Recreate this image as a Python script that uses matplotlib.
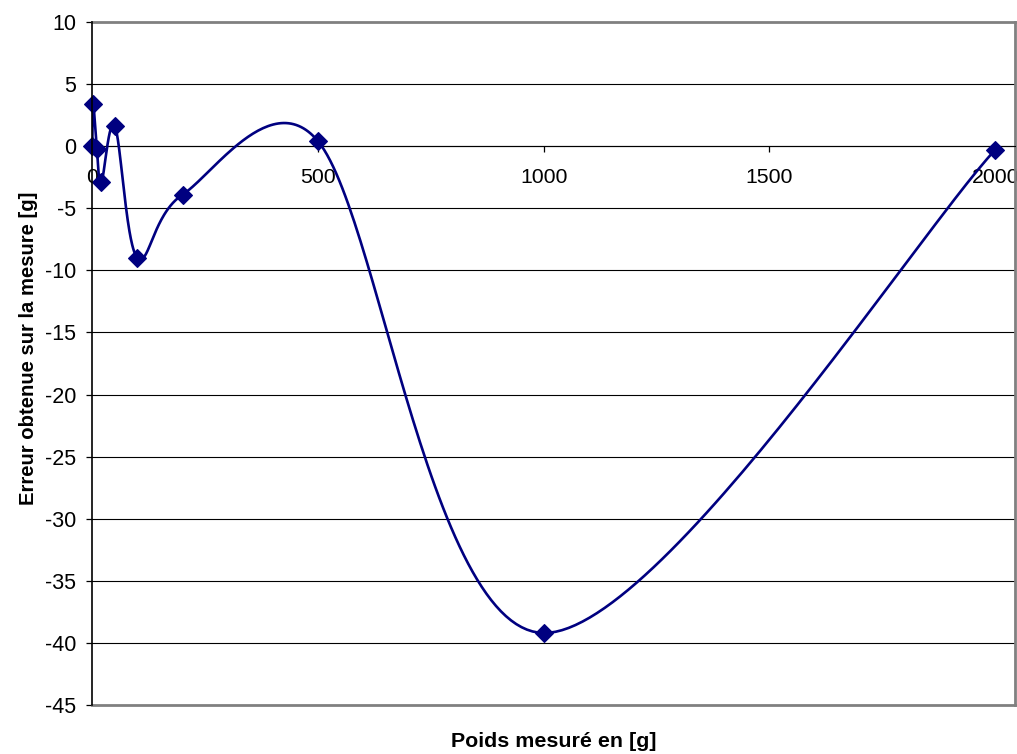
import matplotlib
matplotlib.use("Agg")
import matplotlib.pyplot as plt
import numpy as np

# valeurs
poids = [0, 2, 10, 20, 50, 100, 200, 500, 1000, 2000]
erreur = [0.0, 3.4, -0.2, -2.9, 1.6, -9.0, -3.9, 0.4, -39.2, -0.3]
y_ticks = list(range(-45, 11, 5))
x_ticks = [0, 500, 1000, 1500, 2000]

BLEU = '#000080'
GRIS = '#808080'

plt.rcParams['font.family'] = ['Liberation Sans', 'DejaVu Sans']
plt.rcParams['axes.unicode_minus'] = False

W, H = 1017, 754
fig = plt.figure(figsize=(W / 100, H / 100), dpi=100)
ax = fig.add_axes([92.3 / W, 1 - 705 / H, (1015 - 92.3) / W, (705 - 22) / H])
ax.set_xlim(0, 2044)
ax.set_ylim(-45, 10)


def lissage_excel(xd, yd, n=60):
    # courbe lissee facon Excel : Bezier, points de controle a 1/6,
    # limites a la moitie du segment (calcul en pixels)
    pts = ax.transData.transform(np.column_stack([xd, yd]))
    out = [pts[0]]
    for i in range(len(pts) - 1):
        p0 = pts[i - 1] if i > 0 else pts[i]
        p1 = pts[i]
        p2 = pts[i + 1]
        p3 = pts[i + 2] if i + 2 < len(pts) else pts[i + 1]
        d12 = np.hypot(*(p2 - p1))
        d02 = np.hypot(*(p2 - p0))
        d13 = np.hypot(*(p3 - p1))
        f = 1 / 6
        g = 1 / 6
        if d02 > 0 and d02 / 6 > d12 / 2:
            f = d12 / (2 * d02)
        if d13 > 0 and d13 / 6 > d12 / 2:
            g = d12 / (2 * d13)
        c1 = p1 + f * (p2 - p0)
        c2 = p2 - g * (p3 - p1)
        t = np.linspace(0, 1, n)[1:, None]
        seg = ((1 - t) ** 3) * p1 + 3 * ((1 - t) ** 2) * t * c1 \
            + 3 * (1 - t) * t ** 2 * c2 + t ** 3 * p2
        out.extend(seg)
    out = np.array(out)
    return ax.transData.inverted().transform(out)


courbe = lissage_excel(poids, erreur)
ax.plot(courbe[:, 0], courbe[:, 1], color=BLEU, lw=1.9, zorder=3,
        solid_capstyle='round')
ax.plot(poids, erreur, linestyle='none', marker='D', ms=9.2, mew=0.8,
        color=BLEU, zorder=4, clip_on=False)

# quadrillage horizontal
for y in y_ticks[1:-1]:
    ax.axhline(y, color='black', lw=0.8, zorder=1)

ax.set_yticks(y_ticks)
ax.set_xticks(x_ticks)
ax.tick_params(axis='y', direction='out', length=4.5, width=0.9, pad=7,
               labelsize=15.5, colors='black')
ax.tick_params(axis='x', direction='out', length=4.5, width=0.9, pad=11,
               labelsize=15.3)

ax.spines['bottom'].set_position(('data', 0))
ax.spines['bottom'].set_color('black')
ax.spines['bottom'].set_linewidth(0.8)
ax.spines['left'].set_color('black')
ax.spines['left'].set_linewidth(1.2)
ax.spines['left'].set_zorder(5)
for s in ['top', 'right']:
    ax.spines[s].set_color(GRIS)
    ax.spines[s].set_linewidth(2)
ax.axhline(-45, color=GRIS, lw=2, clip_on=False, zorder=2)

fig.text(554 / W, 1 - 747 / H, 'Poids mesuré en [g]', ha='center',
         va='baseline', fontsize=15.4, fontweight='bold')
fig.text(29 / W, 1 - 348 / H, 'Erreur obtenue sur la mesure [g]',
         ha='center', va='center', rotation=90, fontsize=14.6,
         fontweight='bold')

fig.savefig('out.png', dpi=100)
